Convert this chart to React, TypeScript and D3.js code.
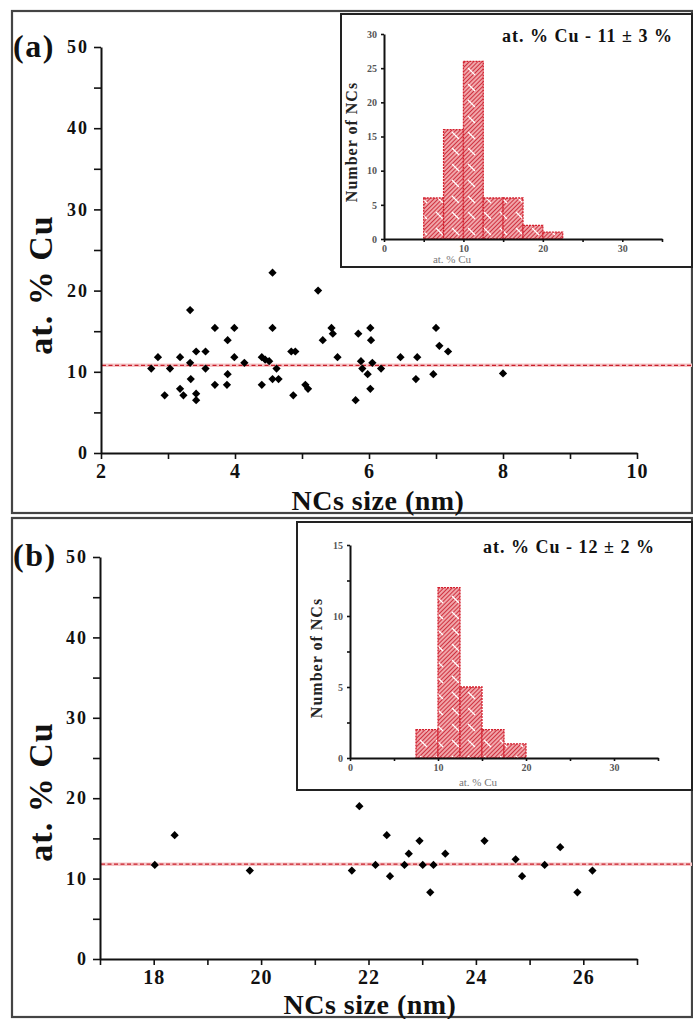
import * as d3 from "d3";
import { useEffect, useRef } from "react";

// panel (a): NCs size (nm) vs at. % Cu
const sizeA = [
  2.75, 2.85, 2.95, 3.03, 3.18, 3.18, 3.23, 3.33, 3.33, 3.34, 3.42, 3.42, 3.42, 3.56, 3.56,
  3.7, 3.7, 3.89, 3.89, 3.88, 3.99, 3.99, 4.14, 4.4, 4.4, 4.45, 4.51, 4.56, 4.56, 4.56,
  4.62, 4.65, 4.84, 4.9, 4.87, 5.05, 5.09, 5.24, 5.31, 5.44, 5.46, 5.53, 5.8, 5.84, 5.88,
  5.9, 5.98, 6.02, 6.03, 6.02, 6.05, 6.18, 6.47, 6.72, 6.7, 6.96, 7.0, 7.05, 7.18, 8.0,
];
const cuA = [
  10.4, 11.8, 7.1, 10.4, 11.8, 7.9, 7.1, 17.6, 11.1, 9.1, 12.5, 7.3, 6.5, 12.5, 10.4,
  15.4, 8.4, 13.9, 9.7, 8.4, 15.4, 11.8, 11.1, 11.8, 8.4, 11.5, 11.3, 22.2, 15.4, 9.1,
  10.4, 9.1, 12.5, 12.5, 7.1, 8.4, 7.9, 20.0, 13.9, 15.4, 14.7, 11.8, 6.5, 14.7, 11.3,
  10.4, 9.7, 15.4, 13.9, 7.9, 11.1, 10.4, 11.8, 11.8, 9.1, 9.7, 15.4, 13.2, 12.5, 9.8,
];

// panel (b)
const sizeB = [
  18.02, 18.39, 19.79, 21.69, 21.83, 22.13, 22.34, 22.4, 22.75, 22.67, 22.95,
  23.01, 23.15, 23.21, 23.43, 24.16, 24.74, 24.86, 25.28, 25.57, 25.89, 26.17,
];
const cuB = [
  11.7, 15.4, 11.0, 11.0, 19.0, 11.7, 15.4, 10.3, 13.1, 11.7, 14.7,
  11.7, 8.3, 11.7, 13.1, 14.7, 12.4, 10.3, 11.7, 13.9, 8.3, 11.0,
];

// insets: histograms of at. % Cu
const binsA = [5, 7.5, 10, 12.5, 15, 17.5, 20];
const countsA = [6, 16, 26, 6, 6, 2, 1];
const binsB = [7.5, 10, 12.5, 15, 17.5];
const countsB = [2, 12, 5, 2, 1];
const binWidth = 2.5;

const meanA = 10.8;
const meanB = 11.8;
const titleA = "at. % Cu - 11 ± 3 %";
const titleB = "at. % Cu - 12 ± 2 %";

const ticksXA = [2, 3, 4, 5, 6, 7, 8, 9, 10];
const ticksXB = [17, 18, 19, 20, 21, 22, 23, 24, 25, 26, 27];
const ticksY = [0, 5, 10, 15, 20, 25, 30, 35, 40, 45, 50];
const insetTicksX = [0, 5, 10, 15, 20, 25, 30, 35];
const insetTicksYA = [0, 5, 10, 15, 20, 25, 30];
const insetTicksYB = [0, 2.5, 5, 7.5, 10, 12.5, 15];

const serif = "'Liberation Serif', 'Times New Roman', serif";

function styleAxis(g, fontSize, color, spacing) {
  g.select(".domain").attr("stroke", "#111").attr("stroke-width", 2);
  g.selectAll(".tick line").attr("stroke", "#111").attr("stroke-width", 1.6);
  g.selectAll(".tick text")
    .attr("font-family", serif)
    .attr("font-weight", "bold")
    .attr("font-size", fontSize)
    .attr("fill", color)
    .attr("letter-spacing", spacing);
}

function drawPanel(svg, p) {
  const x = d3.scaleLinear().domain(p.xDomain).range(p.xRange);
  const y = d3.scaleLinear().domain([0, 50]).range(p.yRange);

  svg.append("rect")
    .attr("x", p.frame[0]).attr("y", p.frame[1])
    .attr("width", p.frame[2]).attr("height", p.frame[3])
    .attr("fill", "none").attr("stroke", "#444").attr("stroke-width", 2.2);

  // mean line
  svg.append("line")
    .attr("x1", x(p.xDomain[0]) + 1).attr("x2", 692)
    .attr("y1", y(p.mean)).attr("y2", y(p.mean))
    .attr("stroke", "#f6c4c6").attr("stroke-width", 3.5);
  svg.append("line")
    .attr("x1", x(p.xDomain[0]) + 1).attr("x2", 692)
    .attr("y1", y(p.mean)).attr("y2", y(p.mean))
    .attr("stroke", "#c81e2a").attr("stroke-width", 1.3)
    .attr("stroke-dasharray", "4,2.5");

  const xAxis = svg.append("g")
    .attr("transform", `translate(0,${p.yRange[0]})`)
    .call(d3.axisBottom(x).tickValues(p.xTicks).tickSize(6).tickSizeOuter(0).tickPadding(5)
      .tickFormat(d => (d % 2 === 0 ? d3.format("d")(d) : "")));
  styleAxis(xAxis, 20, "#111", 1);

  const yAxis = svg.append("g")
    .attr("transform", `translate(${p.xRange[0]},0)`)
    .call(d3.axisLeft(y).tickValues(ticksY).tickSize(7).tickSizeOuter(0).tickPadding(5)
      .tickFormat(d => (d % 10 === 0 ? d3.format("d")(d) : "")));
  styleAxis(yAxis, 18, "#111", 2);

  const diamond = d3.symbol(d3.symbolSquare, 34);
  svg.append("g").selectAll("path")
    .data(p.sizes.map((s, i) => [s, p.cus[i]]))
    .join("path")
    .attr("d", diamond)
    .attr("transform", d => `translate(${x(d[0])},${y(d[1])}) rotate(45)`)
    .attr("fill", "#000");

  svg.append("text")
    .attr("x", 13).attr("y", p.labelY)
    .attr("font-family", serif).attr("font-weight", "bold").attr("font-size", 32)
    .attr("letter-spacing", 1.5)
    .attr("fill", "#111")
    .text(p.label);

  svg.append("text")
    .attr("transform", `translate(52,${p.yLabelY}) rotate(-90)`)
    .attr("text-anchor", "middle")
    .attr("font-family", serif).attr("font-weight", "bold").attr("font-size", 34)
    .attr("letter-spacing", 1)
    .attr("fill", "#111")
    .text("at. % Cu");

  svg.append("text")
    .attr("x", p.xLabelX).attr("y", p.xLabelY)
    .attr("text-anchor", "middle")
    .attr("font-family", serif).attr("font-weight", "bold").attr("font-size", 28)
    .attr("letter-spacing", 0.5)
    .attr("fill", "#111")
    .text("NCs size (nm)");

  drawInset(svg, p.inset);
}

function drawInset(svg, q) {
  const x = d3.scaleLinear().domain([0, 35]).range(q.xRange);
  const y = d3.scaleLinear().domain([0, q.yMax]).range(q.yRange);

  svg.append("rect")
    .attr("x", q.frame[0]).attr("y", q.frame[1])
    .attr("width", q.frame[2]).attr("height", q.frame[3])
    .attr("fill", "#fff").attr("stroke", "#222").attr("stroke-width", 2);

  const bars = svg.append("g");
  q.bins.forEach((b, i) => {
    const x0 = x(b);
    const w = x(b + binWidth) - x0;
    const top = y(q.counts[i]);
    const h = y(0) - top;
    bars.append("rect").attr("x", x0).attr("y", top).attr("width", w).attr("height", h)
      .attr("fill", "url(#hatch)");
    bars.append("rect").attr("x", x0).attr("y", top).attr("width", w).attr("height", h)
      .attr("fill", "url(#slash)")
      .attr("stroke", "#d4202e").attr("stroke-width", 1.3).attr("stroke-dasharray", "2,1");
  });

  const xAxis = svg.append("g")
    .attr("transform", `translate(0,${q.yRange[0]})`)
    .call(d3.axisBottom(x).tickValues(insetTicksX).tickSize(3).tickSizeOuter(0).tickPadding(3)
      .tickFormat(d => (d % 10 === 0 ? d3.format("d")(d) : "")));
  styleAxis(xAxis, 10, "#555", 0);

  const yAxis = svg.append("g")
    .attr("transform", `translate(${q.xRange[0]},0)`)
    .call(d3.axisLeft(y).tickValues(q.yTicks).tickSize(3).tickSizeOuter(0).tickPadding(4)
      .tickFormat(d => (d % 5 === 0 ? d3.format("d")(d) : "")));
  styleAxis(yAxis, 10, "#555", 0);

  svg.append("text")
    .attr("x", q.titleX).attr("y", q.titleY)
    .attr("font-family", serif).attr("font-weight", "bold").attr("font-size", 18)
    .attr("letter-spacing", 1)
    .attr("fill", "#111")
    .text(q.title);

  svg.append("text")
    .attr("transform", `translate(${q.yLabelX},${q.yLabelY}) rotate(-90)`)
    .attr("text-anchor", "middle")
    .attr("font-family", serif).attr("font-weight", "bold").attr("font-size", 16)
    .attr("letter-spacing", 1)
    .attr("fill", "#222")
    .text("Number of NCs");

  svg.append("text")
    .attr("x", q.xLabelX).attr("y", q.xLabelY)
    .attr("text-anchor", "middle")
    .attr("font-family", serif).attr("font-size", 11)
    .attr("fill", "#777")
    .text("at. % Cu");
}

export default function App() {
  const ref = useRef(null);

  useEffect(() => {
    if (!ref.current) return;
    const svg = d3.select(ref.current);
    svg.selectAll("*").remove();

    const width = 693;
    const height = 1019;
    svg.attr("width", width).attr("height", height);

    svg.append("rect").attr("width", width).attr("height", height).attr("fill", "#fff");

    const defs = svg.append("defs");
    const hatch = defs.append("pattern")
      .attr("id", "hatch")
      .attr("width", 3).attr("height", 3)
      .attr("patternUnits", "userSpaceOnUse")
      .attr("patternTransform", "rotate(45)");
    hatch.append("rect").attr("width", 3).attr("height", 3).attr("fill", "#f0a4a8");
    hatch.append("line").attr("x1", 0).attr("y1", 0).attr("x2", 0).attr("y2", 3)
      .attr("stroke", "#cc2434").attr("stroke-width", 1.8);

    const slash = defs.append("pattern")
      .attr("id", "slash")
      .attr("width", 16).attr("height", 16)
      .attr("patternUnits", "userSpaceOnUse");
    slash.append("line").attr("x1", 4).attr("y1", 4).attr("x2", 11).attr("y2", 11)
      .attr("stroke", "#fff").attr("stroke-width", 1.2);

    drawPanel(svg, {
      frame: [12, 11, 680, 502],
      xDomain: [2, 10],
      xRange: [101, 637],
      yRange: [453, 47],
      xTicks: ticksXA,
      sizes: sizeA,
      cus: cuA,
      mean: meanA,
      label: "(a)",
      labelY: 57,
      yLabelY: 285,
      xLabelX: 378,
      xLabelY: 510,
      inset: {
        frame: [341, 14, 351, 253],
        xRange: [384, 662],
        yRange: [239, 34],
        yMax: 30,
        yTicks: insetTicksYA,
        bins: binsA,
        counts: countsA,
        title: titleA,
        titleX: 502,
        titleY: 42,
        yLabelX: 357,
        yLabelY: 142,
        xLabelX: 452,
        xLabelY: 263,
      },
    });

    drawPanel(svg, {
      frame: [12, 518, 680, 499],
      xDomain: [17, 27],
      xRange: [100, 637],
      yRange: [959, 557],
      xTicks: ticksXB,
      sizes: sizeB,
      cus: cuB,
      mean: meanB,
      label: "(b)",
      labelY: 566,
      yLabelY: 792,
      xLabelX: 370,
      xLabelY: 1014,
      inset: {
        frame: [297, 522, 395, 268],
        xRange: [350, 658],
        yRange: [758, 545],
        yMax: 15,
        yTicks: insetTicksYB,
        bins: binsB,
        counts: countsB,
        title: titleB,
        titleX: 483,
        titleY: 553,
        yLabelX: 322,
        yLabelY: 658,
        xLabelX: 478,
        xLabelY: 786,
      },
    });
  }, []);

  return (
    <div style={{ position: "absolute", left: 0, top: 0 }}>
      <svg ref={ref} style={{ display: "block" }} />
    </div>
  );
}
